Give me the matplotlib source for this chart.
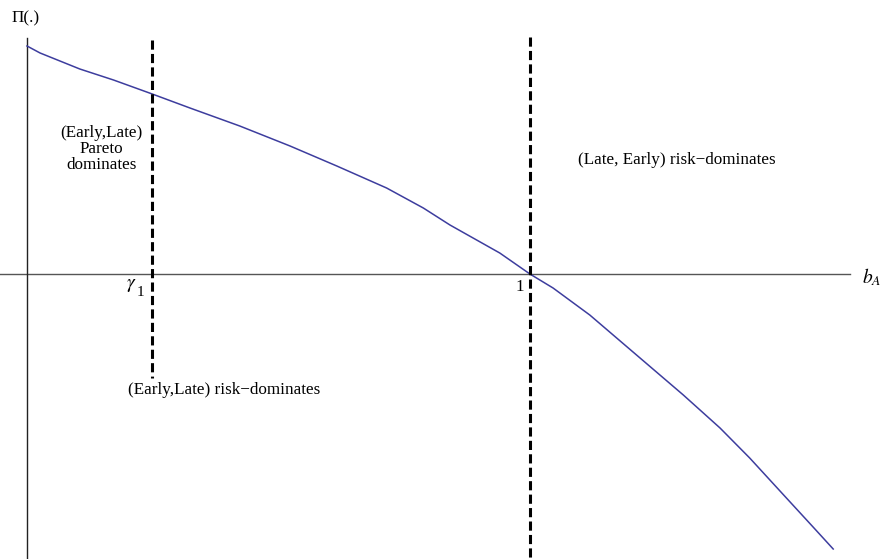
import numpy as np
import matplotlib
matplotlib.use("Agg")
import matplotlib.pyplot as plt

plt.rcParams["font.family"] = ["Liberation Serif", "DejaVu Serif"]
plt.rcParams["mathtext.fontset"] = "stix"

# ── curve (b_A, Pi) ───────────────────────────────────────────────
b_A = [0.0, 0.026, 0.105, 0.172, 0.249, 0.324, 0.423, 0.523, 0.616,
       0.715, 0.788, 0.841, 0.940, 1.0, 1.046, 1.119, 1.205, 1.305,
       1.378, 1.437, 1.510, 1.563, 1.603]
Pi = [2.28, 2.21, 2.05, 1.94, 1.80, 1.66, 1.48, 1.28, 1.08,
      0.86, 0.66, 0.49, 0.21, 0.0, -0.14, -0.41, -0.78, -1.21,
      -1.54, -1.84, -2.24, -2.53, -2.75]

gamma1 = 0.249
b_one = 1.0

fig = plt.figure(figsize=(8.86, 5.59), dpi=100)
ax = fig.add_axes([0, 0, 1, 1])
ax.set_xlim(-0.0537, 1.708)
ax.set_ylim(-2.85, 2.74)
ax.axis("off")

# axes through the origin
ax.plot([-0.054, 1.636], [0, 0], color="#555555", lw=1.0)
ax.plot([0, 0], [2.36, -2.85], color="#222222", lw=1.0)

# curve
ax.plot(b_A, Pi, color="#3d3d9e", lw=1.1)

# dashed thresholds
ax.plot([gamma1, gamma1], [2.34, -1.04], color="black", lw=2.2,
        dashes=(3.0, 1.4))
ax.plot([b_one, b_one], [2.37, -2.85], color="black", lw=2.2,
        dashes=(3.0, 1.4))

# labels
fs = 12.3
ax.text(-0.030, 2.56, "\u03a0(.)", fontsize=fs, ha="left", va="center")
ax.text(1.660, -0.03, "$b_A$", fontsize=14, ha="left", va="center")
ax.text(0.2175, -0.12, "$\\gamma$", fontsize=14, ha="right", va="center")
ax.text(0.2185, -0.19, "1", fontsize=11, ha="left", va="center")
ax.text(0.980, -0.13, "1", fontsize=fs, ha="center", va="center")
ax.text(0.148, 1.25, "(Early,Late)\nPareto\ndominates", fontsize=fs,
        ha="center", va="center", linespacing=1.0)
ax.text(1.095, 1.14, "(Late, Early) risk\u2212dominates", fontsize=fs,
        ha="left", va="center")
ax.text(0.201, -1.16, "(Early,Late) risk\u2212dominates", fontsize=fs,
        ha="left", va="center")

fig.savefig("out.png", dpi=100)
